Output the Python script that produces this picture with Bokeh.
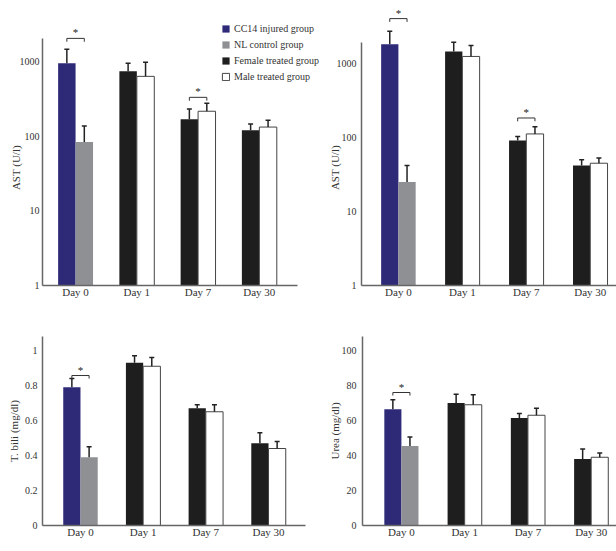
from bokeh.plotting import figure
from bokeh.models import (ColumnDataSource, Range1d, FixedTicker, CustomJSTickFormatter,
                          Legend, LegendItem)
from bokeh.transform import dodge
from bokeh.layouts import column, row
from bokeh.core.properties import value
from bokeh.embed import file_html
from bokeh.resources import INLINE

# ---------------- data ----------------
days = ["Day 0", "Day 1", "Day 7", "Day 30"]
groups = ["CC14 injured group", "NL control group", "Female treated group", "Male treated group"]
baseline_days = ["Day 0"]
treated_days = ["Day 1", "Day 7", "Day 30"]

# Panel A: AST (U/l), log scale
a_injured = [940]
a_injured_sd = [510]
a_control = [83]
a_control_sd = [53]
a_female = [735, 168, 120]
a_female_sd = [205, 62, 25]
a_male = [630, 215, 132]
a_male_sd = [340, 60, 31]
a_sig_days = ["Day 0", "Day 7"]
a_sig_level = [2030, 330]

# Panel B: AST (U/l), log scale
b_injured = [1820]
b_injured_sd = [920]
b_control = [25]
b_control_sd = [17]
b_female = [1460, 91, 42]
b_female_sd = [480, 12, 8]
b_male = [1250, 112, 45]
b_male_sd = [510, 28, 8]
b_sig_days = ["Day 0", "Day 7"]
b_sig_level = [4060, 184]

# Panel C: T. bili (mg/dl)
c_injured = [0.79]
c_injured_sd = [0.05]
c_control = [0.39]
c_control_sd = [0.06]
c_female = [0.93, 0.67, 0.47]
c_female_sd = [0.04, 0.02, 0.06]
c_male = [0.91, 0.65, 0.44]
c_male_sd = [0.05, 0.04, 0.04]
c_sig_days = ["Day 0"]
c_sig_level = [0.857]

# Panel D: Urea (mg/dl)
d_injured = [66.5]
d_injured_sd = [5.3]
d_control = [45.4]
d_control_sd = [5.2]
d_female = [70, 61.5, 38]
d_female_sd = [5, 2.5, 5.7]
d_male = [69, 63, 39]
d_male_sd = [5.7, 4, 2.5]
d_sig_days = ["Day 0"]
d_sig_level = [76]

log_ticks = [1, 10, 100, 1000]
bili_ticks = [0, 0.2, 0.4, 0.6, 0.8, 1]
urea_ticks = [0, 20, 40, 60, 80, 100]

# ---------------- styling ----------------
SERIF = "Liberation Serif"
FILL = {"injured": "#2e2a78", "control": "#8e9094", "female": "#1e1e1e", "male": "#ffffff"}
LINE = {"injured": None, "control": None, "female": None, "male": "#444444"}
ERR = "#222222"
NBSP = "\u00a0"


def build(width, height, borders, x_rng, x_axis_end, bw, y_log, y_rng, y_bounds, yticks, ylabel,
          series, sig_days, sig_levels, tick_standoff, label_standoff, label_pad=0,
          legend_loc=None):
    l, r, t, b = borders
    p = figure(width=width, height=height, output_backend="svg", toolbar_location=None,
               title=None,
               y_axis_type="log" if y_log else "linear",
               x_range=Range1d(*x_rng), y_range=Range1d(*y_rng),
               min_border_left=l, min_border_right=r, min_border_top=t, min_border_bottom=b)
    p.outline_line_color = None
    p.grid.visible = False
    p.background_fill_color = "white"
    base = y_rng[0]
    rends = {}
    for key, dlist, means, sds, side in series:
        xs = [days.index(d) for d in dlist]
        ups = [m + s for m, s in zip(means, sds)]
        src = ColumnDataSource(dict(x=xs, top=means, up=ups))
        off = side * bw / 2
        rr = p.vbar(x=dodge("x", off), top="top", bottom=base, width=bw, source=src,
                    fill_color=FILL[key], line_color=LINE[key], line_width=1)
        p.segment(x0=dodge("x", off), y0="top", x1=dodge("x", off), y1="up", source=src,
                  line_color=ERR, line_width=1.5)
        p.scatter(x=dodge("x", off), y="up", marker="dash", size=5, source=src,
                  line_color=ERR, line_width=1.5)
        rends[key] = rr

    # significance brackets
    xs = [days.index(d) for d in sig_days]
    if y_log:
        lo = [lv / 10 ** 0.045 for lv in sig_levels]
    else:
        lo = [lv - (y_rng[1] - y_rng[0]) * 0.016 for lv in sig_levels]
    ssrc = ColumnDataSource(dict(x=xs, y=sig_levels, lo=lo, star=["*"] * len(xs)))
    p.segment(x0=dodge("x", -bw / 2), x1=dodge("x", bw / 2), y0="y", y1="y", source=ssrc,
              line_color="#333333", line_width=1)
    p.segment(x0=dodge("x", -bw / 2), x1=dodge("x", -bw / 2), y0="y", y1="lo", source=ssrc,
              line_color="#333333", line_width=1)
    p.segment(x0=dodge("x", bw / 2), x1=dodge("x", bw / 2), y0="y", y1="lo", source=ssrc,
              line_color="#333333", line_width=1)
    p.text(x="x", y="y", text="star", source=ssrc, text_align="center", text_baseline="bottom",
           y_offset=0, text_font=value(SERIF), text_font_size="11px", text_color="#222222")

    # axes
    p.xaxis.ticker = FixedTicker(ticks=list(range(len(days))))
    p.xaxis.formatter = CustomJSTickFormatter(args=dict(labels=days),
                                              code="return labels[Math.round(tick)]")
    p.xaxis.bounds = (x_rng[0], x_axis_end)
    p.yaxis.ticker = FixedTicker(ticks=yticks)
    p.yaxis.formatter = CustomJSTickFormatter(code="return String(tick)")
    p.yaxis.bounds = y_bounds
    for ax in p.axis:
        ax.axis_line_color = "#666666"
        ax.axis_line_width = 1.5
        ax.major_tick_line_color = None
        ax.minor_tick_line_color = None
        ax.major_tick_out = 0
        ax.major_tick_in = 0
        ax.minor_tick_out = 0
        ax.minor_tick_in = 0
        ax.major_label_text_font = SERIF
        ax.major_label_text_color = "#333333"
    p.xaxis.major_label_text_font_size = "11px"
    p.xaxis.major_label_standoff = 0
    p.yaxis.major_label_text_font_size = "10px"
    p.yaxis.major_label_standoff = tick_standoff
    # trailing no-break spaces move the (frame-centred) label down to sit beside the axis line
    p.yaxis.axis_label = ylabel + NBSP * label_pad
    p.yaxis.axis_label_text_font = SERIF
    p.yaxis.axis_label_text_font_style = "normal"
    p.yaxis.axis_label_text_font_size = "11px"
    p.yaxis.axis_label_text_color = "#333333"
    p.yaxis.axis_label_standoff = label_standoff

    if legend_loc is not None:
        items = [LegendItem(label=groups[i], renderers=[rends[k]])
                 for i, k in enumerate(["injured", "control", "female", "male"])]
        lg = Legend(items=items, location=legend_loc, glyph_width=9, glyph_height=9,
                    label_height=9, spacing=5, padding=0, margin=0, label_standoff=4,
                    border_line_color=None, background_fill_alpha=0,
                    label_text_font=SERIF, label_text_font_size="10px",
                    label_text_color="#333333")
        p.add_layout(lg, "center")
    return p


def series_for(inj, inj_sd, ctl, ctl_sd, fem, fem_sd, mal, mal_sd):
    return [("injured", baseline_days, inj, inj_sd, -1),
            ("control", baseline_days, ctl, ctl_sd, 1),
            ("female", treated_days, fem, fem_sd, -1),
            ("male", treated_days, mal, mal_sd, 1)]


# top row: frames start at y=8 (room for the significance stars); the y axis line stops lower
pA = build(325, 305, (42, 0, 8, 20), (-0.54, 4.08), 3.62, 0.285, True, (1, 5100), (1, 2030),
           log_ticks, "AST (U/l)",
           series_for(a_injured, a_injured_sd, a_control, a_control_sd,
                      a_female, a_female_sd, a_male, a_male_sd),
           a_sig_days, a_sig_level, 3, -5, label_pad=15, legend_loc=(179, 203))
pB = build(291, 305, (33, 0, 8, 20), (-0.577, 3.41), 3.41, 0.27, True, (1, 5560), (1, 1920),
           log_ticks, "AST (U/l)",
           series_for(b_injured, b_injured_sd, b_control, b_control_sd,
                      b_female, b_female_sd, b_male, b_male_sd),
           b_sig_days, b_sig_level, 5, -7, label_pad=15)
pC = build(325, 246, (42, 20, 31, 26), (-0.606, 3.59), 3.59, 0.275, False, (0, 1.08), (0, 1.08),
           bili_ticks, "T. bili (mg/dl)",
           series_for(c_injured, c_injured_sd, c_control, c_control_sd,
                      c_female, c_female_sd, c_male, c_male_sd),
           c_sig_days, c_sig_level, 5, 2)
pD = build(291, 246, (33, 0, 31, 26), (-0.615, 3.40), 3.40, 0.27, False, (0, 108), (0, 108),
           urea_ticks, "Urea (mg/dl)",
           series_for(d_injured, d_injured_sd, d_control, d_control_sd,
                      d_female, d_female_sd, d_male, d_male_sd),
           d_sig_days, d_sig_level, 6, -2)

layout = column(row(pA, pB), row(pC, pD))
open("out.html", "w").write(file_html(layout, INLINE))
